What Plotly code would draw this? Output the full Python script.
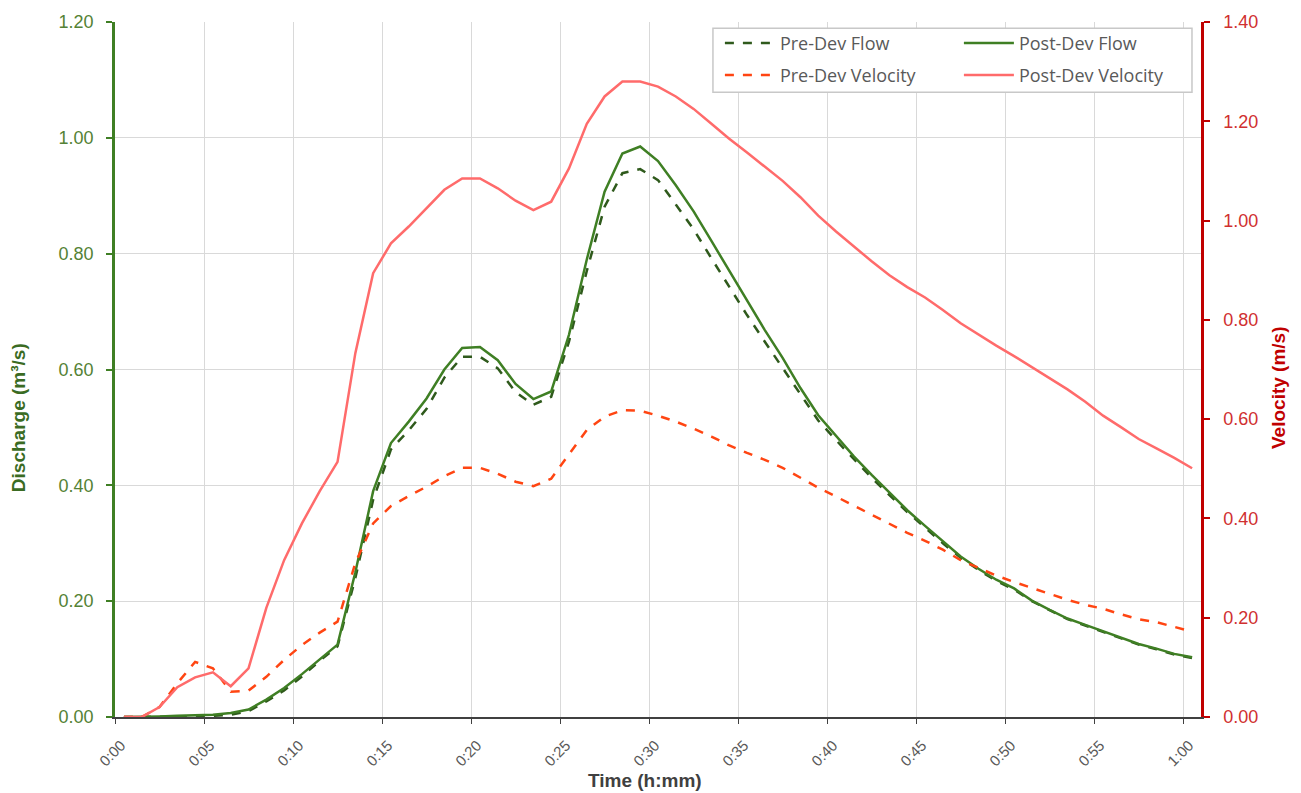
import plotly.graph_objects as go

# time in minutes (points sit at the half minute)
time_min = [0.5, 1.5, 2.5, 3.5, 4.5, 5.5, 6.5, 7.5, 8.5, 9.5,
            10.5, 11.5, 12.5, 13.5, 14.5, 15.5, 16.5, 17.5, 18.5, 19.5,
            20.5, 21.5, 22.5, 23.5, 24.5, 25.5, 26.5, 27.5, 28.5, 29.5,
            30.5, 31.5, 32.5, 33.5, 34.5, 35.5, 36.5, 37.5, 38.5, 39.5,
            40.5, 41.5, 42.5, 43.5, 44.5, 45.5, 46.5, 47.5, 48.5, 49.5,
            50.5, 51.5, 52.5, 53.5, 54.5, 55.5, 56.5, 57.5, 58.5, 59.5,
            60.5]

pre_flow = [0, 0, 0, 0.001, 0.001, 0.002, 0.004, 0.010, 0.027, 0.046,
            0.070, 0.097, 0.122, 0.240, 0.375, 0.462, 0.495, 0.532, 0.586, 0.622,
            0.622, 0.602, 0.561, 0.539, 0.553, 0.648, 0.770, 0.881, 0.939, 0.946,
            0.927, 0.885, 0.842, 0.792, 0.743, 0.694, 0.648, 0.602, 0.556, 0.512,
            0.478, 0.445, 0.413, 0.383, 0.354, 0.327, 0.300, 0.275, 0.254, 0.235,
            0.220, 0.200, 0.184, 0.169, 0.158, 0.147, 0.135, 0.125, 0.117, 0.108,
            0.102]

post_flow = [0, 0, 0.001, 0.002, 0.003, 0.004, 0.007, 0.013, 0.030, 0.050,
             0.074, 0.100, 0.125, 0.250, 0.390, 0.473, 0.510, 0.550, 0.600, 0.637,
             0.639, 0.616, 0.575, 0.549, 0.562, 0.660, 0.790, 0.907, 0.973, 0.985,
             0.960, 0.918, 0.873, 0.822, 0.770, 0.718, 0.668, 0.620, 0.568, 0.521,
             0.485, 0.450, 0.418, 0.387, 0.357, 0.330, 0.303, 0.277, 0.256, 0.237,
             0.222, 0.201, 0.185, 0.170, 0.159, 0.148, 0.136, 0.126, 0.118, 0.109,
             0.103]

pre_vel = [0, 0, 0.020, 0.068, 0.111, 0.098, 0.051, 0.053, 0.081, 0.115,
           0.145, 0.170, 0.192, 0.310, 0.390, 0.425, 0.445, 0.464, 0.485, 0.502,
           0.502, 0.490, 0.474, 0.465, 0.480, 0.528, 0.578, 0.605, 0.618, 0.617,
           0.607, 0.595, 0.581, 0.565, 0.547, 0.532, 0.518, 0.502, 0.482, 0.462,
           0.444, 0.426, 0.408, 0.389, 0.371, 0.355, 0.337, 0.316, 0.300, 0.285,
           0.272, 0.260, 0.248, 0.236, 0.226, 0.218, 0.207, 0.197, 0.191, 0.181,
           0.172]

post_vel = [0, 0, 0.020, 0.060, 0.080, 0.090, 0.062, 0.098, 0.220, 0.316,
            0.390, 0.455, 0.514, 0.733, 0.894, 0.954, 0.988, 1.025, 1.062, 1.085,
            1.085, 1.065, 1.040, 1.021, 1.038, 1.105, 1.195, 1.250, 1.280, 1.280,
            1.270, 1.250, 1.225, 1.195, 1.165, 1.137, 1.108, 1.080, 1.047, 1.010,
            0.978, 0.948, 0.918, 0.890, 0.866, 0.845, 0.820, 0.793, 0.770, 0.748,
            0.727, 0.705, 0.683, 0.660, 0.635, 0.607, 0.584, 0.560, 0.541, 0.522,
            0.501]

tick_vals = [0, 5, 10, 15, 20, 25, 30, 35, 40, 45, 50, 55, 60]
tick_text = ["0:00", "0:05", "0:10", "0:15", "0:20", "0:25", "0:30",
             "0:35", "0:40", "0:45", "0:50", "0:55", "1:00"]

GREEN = "#3f7f24"
DARK_GREEN = "#2f5a1c"
ORANGE = "#ff4512"
PINK = "#ff6b6b"
RED = "#c00000"
GREY = "#595959"

fig = go.Figure()

fig.add_trace(go.Scatter(x=time_min, y=pre_flow, name="Pre-Dev Flow", mode="lines",
                         line=dict(color=DARK_GREEN, width=2.5, dash="dash"), legend="legend"))
fig.add_trace(go.Scatter(x=time_min, y=post_flow, name="Post-Dev Flow", mode="lines",
                         line=dict(color=GREEN, width=2.5), legend="legend"))
fig.add_trace(go.Scatter(x=time_min, y=pre_vel, name="Pre-Dev Velocity", mode="lines",
                         line=dict(color=ORANGE, width=2.5, dash="dash"), yaxis="y2", legend="legend2"))
fig.add_trace(go.Scatter(x=time_min, y=post_vel, name="Post-Dev Velocity", mode="lines",
                         line=dict(color=PINK, width=2.5), yaxis="y2", legend="legend2"))

# single box behind the two legend rows
fig.add_shape(type="rect", xref="paper", yref="paper", x0=0.5506, x1=0.9917, y0=0.899, y1=0.991,
              fillcolor="white", line=dict(color="#c8c8c8", width=1.5), layer="above")

legend_style = dict(orientation="h", xanchor="left", bgcolor="rgba(0,0,0,0)",
                    font=dict(family="Open Sans", size=18, color=GREY),
                    entrywidth=174, itemwidth=50, tracegroupgap=0)

# axis titles as annotations so they can sit where the original has them
fig.add_annotation(text="<b>Discharge (m³/s)</b>", xref="paper", yref="paper", x=-0.0893, y=0.430,
                   xanchor="center", yanchor="middle", textangle=-90, showarrow=False,
                   font=dict(family="Liberation Sans", size=19, color="#3a6b23"))
fig.add_annotation(text="<b>Velocity (m/s)</b>", xref="paper", yref="paper", x=1.0709, y=0.4748,
                   xanchor="center", yanchor="middle", textangle=-90, showarrow=False,
                   font=dict(family="Liberation Sans", size=19, color=RED))
fig.add_annotation(text="<b>Time (h:mm)</b>", xref="paper", yref="paper", x=0.4876, y=-0.092,
                   xanchor="center", yanchor="middle", showarrow=False,
                   font=dict(family="Liberation Sans", size=19, color="#404040"))

# the page has an 8px body margin, so the plot box is shifted by that much
fig.update_layout(
    width=1301, height=793,
    margin=dict(l=107, r=108, t=14, b=84),
    plot_bgcolor="white", paper_bgcolor="white",
    showlegend=True,
    legend=dict(x=0.557, y=0.996, yanchor="top", **legend_style),
    legend2=dict(x=0.557, y=0.950, yanchor="top", **legend_style),
    xaxis=dict(
        range=[0, 61], tickvals=tick_vals, ticktext=tick_text, tickangle=-45,
        showgrid=True, gridcolor="#d9d9d9", gridwidth=1,
        showline=True, linecolor="#404040", linewidth=1.5,
        ticks="outside", ticklen=5, tickcolor="#404040",
        ticklabelstandoff=7, ticklabelshift=6,
        tickfont=dict(family="Liberation Sans", size=15, color=GREY),
        zeroline=False, automargin=False,
    ),
    yaxis=dict(
        range=[0, 1.2], dtick=0.2, tickformat=".2f",
        showgrid=True, gridcolor="#d9d9d9", gridwidth=1,
        showline=True, linecolor=GREEN, linewidth=2.5,
        ticks="outside", ticklen=6, tickcolor=GREEN, tickwidth=2, ticklabelstandoff=9,
        tickfont=dict(family="Liberation Sans", size=18, color="#548235"),
        zeroline=False, automargin=False,
    ),
    yaxis2=dict(
        range=[0, 1.4], dtick=0.2, tickformat=".2f",
        overlaying="y", side="right", showgrid=False,
        showline=True, linecolor=RED, linewidth=2.5,
        ticks="outside", ticklen=6, tickcolor=RED, tickwidth=2, ticklabelstandoff=10,
        tickfont=dict(family="Liberation Sans", size=18, color="#d03030"),
        zeroline=False, automargin=False,
    ),
)

fig.write_html("out.html")
